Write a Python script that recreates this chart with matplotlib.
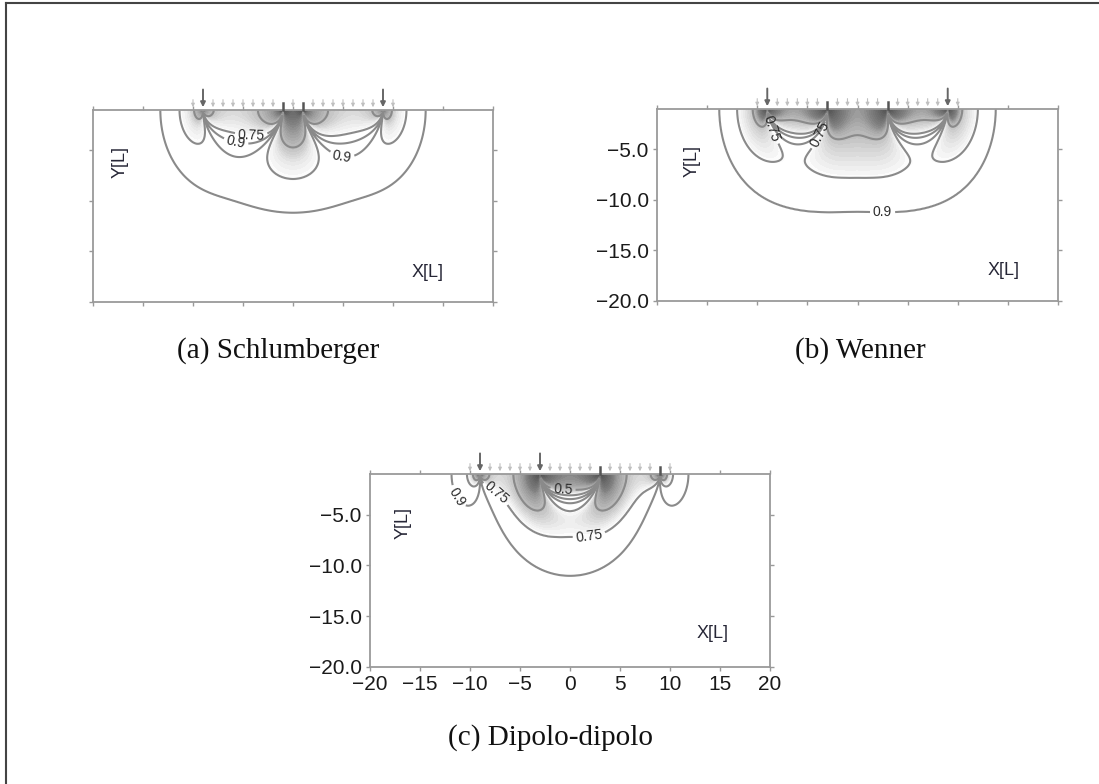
import numpy as np
import matplotlib
matplotlib.use('Agg')
import matplotlib.pyplot as plt
from matplotlib.colors import LinearSegmentedColormap

''' ---------- data read off the figure ---------- '''
# electrode layout (x positions), current pair = big arrows, potential pair = short ticks
arr_names = ['(a) Schlumberger', '(b) Wenner', '(c) Dipolo-dipolo']
current_el = [[-9, 9], [-9, 9], [-9, -3]]
potential_el = [[-1, 1], [-3, 3], [3, 9]]
spread_el = list(range(-10, 11))            # small grey arrows
cont_levels = [0.5, 0.75, 0.9]              # cumulative sensitivity contours
label_pos = [[(-4.1, -2.7), (-5.8, -4.6), (4.5, -7.4)],
             [(-9.0, -3.1), (-3.5, -3.6), (2.5, -11.3)],
             [(-10.7, -2.9), (-7.3, -2.8), (-0.7, -2.4), (1.8, -6.0)]]
x_lims, y_lims = [-20, 20], [-20, -1]
x_ticks = [-20, -15, -10, -5, 0, 5, 10, 15, 20]
y_ticks = [-5.0, -10.0, -15.0, -20.0]
show_xlab = [False, False, True]
show_ylab = [False, True, True]

# axes boxes in pixels (left, top, right, bottom) of the 1099x784 canvas
W, H = 1099, 784
boxes = [(93, 110, 493, 302), (657, 109, 1058, 301), (370, 474, 770, 667)]
ylab_pos = [(-17.3, -6.1), (-16.5, -6.1), (-16.7, -5.8)]
xlab_pos = [(13.5, -17.1), (14.6, -17.0), (14.3, -16.7)]
cap_pos = [(278, 351), (860, 351), (551, 738)]

line_col = '#8a8a8a'
shade = LinearSegmentedColormap.from_list(
    'shade', [(0, '#4e4e4e'), (0.35, '#7e7e7e'), (0.7, '#c6c6c6'), (1, '#ffffff')])
shade_top = 0.76  # cumulative value above which the section is left white
vert_exag = 1.5   # the model section is drawn with vertical exaggeration

''' ---------- sensitivity model (2D section, integrated along strike) ---------- '''
xs = np.linspace(-20, 20, 401)
ys = np.linspace(-1.02, -20, 190)
X, Y = np.meshgrid(xs, ys)
D = (-1 - Y) / vert_exag
us = np.linspace(0, np.arcsinh(300), 220)
du = us[1] - us[0]

def pair(c, p, yy):
    cx, px = X - c, X - p
    dot = cx * px + D * D + yy * yy
    return dot / ((cx**2 + D**2 + yy*yy)**1.5 * (px**2 + D**2 + yy*yy)**1.5)

def sens(a, b, m, n):
    tot = np.zeros_like(X)
    for u in us:
        yy = np.sinh(u)
        w = 2 * np.cosh(u) * du
        tot += w * (pair(a, m, yy) - pair(a, n, yy) - pair(b, m, yy) + pair(b, n, yy))
    return np.abs(tot)

def cumulative(S):
    flat = S.ravel()
    order = np.argsort(flat, kind='stable')[::-1]
    cum = np.cumsum(flat[order]) / flat.sum()
    C = np.empty_like(flat)
    C[order] = cum
    return C.reshape(S.shape)

''' ---------- figure ---------- '''
plt.rcParams['font.family'] = ['Liberation Sans', 'DejaVu Sans']
fig = plt.figure(figsize=(W / 100, H / 100), dpi=100)

# page frame (left and top edges visible)
fig.add_artist(plt.Line2D([6 / W, 6 / W], [0, 1 - 3 / H], color='#444444', lw=1.5))
fig.add_artist(plt.Line2D([6 / W, 1], [1 - 3 / H, 1 - 3 / H], color='#444444', lw=1.5))

for i in range(3):
    l, t, r, b = boxes[i]
    ax = fig.add_axes([l / W, 1 - b / H, (r - l) / W, (b - t) / H])
    a, bb = current_el[i]
    m, n = potential_el[i]
    C = cumulative(sens(a, bb, m, n))

    ax.contourf(X, Y, C, levels=np.linspace(0, shade_top, 30), cmap=shade,
                extend='max', zorder=0)
    cs = ax.contour(X, Y, C, levels=cont_levels, colors=line_col, linewidths=1.5, zorder=2)
    ax.clabel(cs, fmt={0.5: '0.5', 0.75: '0.75', 0.9: '0.9'}, fontsize=10,
              colors='#2b2b2b', manual=label_pos[i], inline_spacing=3)

    # electrodes
    for e in spread_el:
        if e in current_el[i] or e in potential_el[i]:
            continue
        ax.annotate('', xy=(e, y_lims[1]), xytext=(e, y_lims[1] + 1.3),
                    arrowprops=dict(arrowstyle='-|>', color='#c0c0c0', lw=0.8,
                                    mutation_scale=5), annotation_clip=False)
    for e in current_el[i]:
        ax.annotate('', xy=(e, y_lims[1]), xytext=(e, y_lims[1] + 2.3),
                    arrowprops=dict(arrowstyle='-|>', color='#666666', lw=1.4,
                                    mutation_scale=7), annotation_clip=False)
    for e in potential_el[i]:
        ax.plot([e, e], [y_lims[1], y_lims[1] + 0.7], color='#555555', lw=1.8,
                clip_on=False, zorder=3)

    ax.set_xlim(x_lims)
    ax.set_ylim(y_lims)
    ax.set_xticks(x_ticks)
    ax.set_yticks(y_ticks)
    ax.tick_params(which='both', direction='out', length=3, width=1, color='#999999',
                   top=True, right=True, labelsize=15, labelcolor='#1a1a1a', pad=3)
    if show_xlab[i]:
        ax.set_xticklabels([str(v).replace('-', '\u2212') for v in x_ticks])
    else:
        ax.set_xticklabels([])
    if show_ylab[i]:
        ax.set_yticklabels([('%.1f' % v).replace('-', '\u2212') for v in y_ticks])
    else:
        ax.set_yticklabels([])
    for sp in ax.spines.values():
        sp.set_color('#9a9a9a')
        sp.set_linewidth(1.3)

    ax.text(*ylab_pos[i], 'Y[L]', rotation=90, ha='center', va='center',
            fontsize=13, color='#262636')
    ax.text(*xlab_pos[i], 'X[L]', ha='center', va='center', fontsize=13, color='#262636')

    fig.text(cap_pos[i][0] / W, 1 - cap_pos[i][1] / H, arr_names[i], ha='center',
             va='center', fontsize=21, family=['Liberation Serif', 'DejaVu Serif'],
             color='#111111')

fig.savefig('out.png', dpi=100)
